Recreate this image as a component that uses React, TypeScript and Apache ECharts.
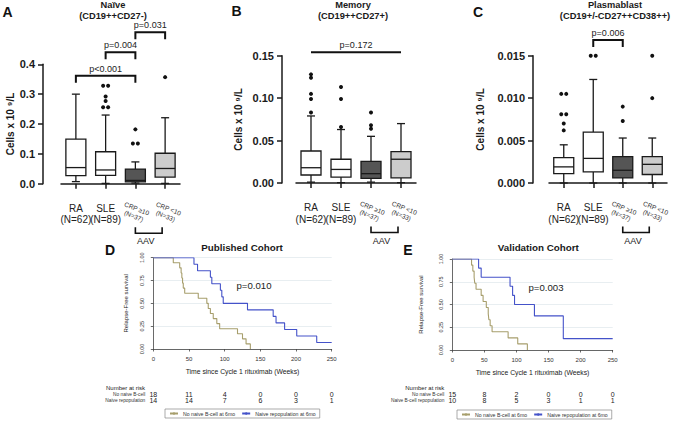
import React, { useEffect, useRef } from 'react';
import * as echarts from 'echarts';

const FONT = '"Liberation Sans", Arial, Helvetica, sans-serif';

// ---------- Box panels (A, B, C) ----------
const groups = ['RA', 'SLE', 'CRP ≥10', 'CRP <10'];
const groupN = [62, 89, 37, 33];
const boxFills = ['#ffffff', '#ffffff', '#555555', '#cccccc'];

// [min, q1, median, q3, max]
const naiveBox = [
  [0.007, 0.027, 0.054, 0.149, 0.300],
  [0.001, 0.028, 0.046, 0.107, 0.230],
  [0.002, 0.006, 0.011, 0.049, 0.073],
  [0.001, 0.022, 0.051, 0.102, 0.221],
];
const naiveOut = [
  [1, 0.328], [1, 0.328], [1, 0.292], [1, 0.277], [1, 0.256], [1, 0.256],
  [2, 0.182], [2, 0.135], [2, 0.135], [3, 0.357],
];
const naiveSig: [number, number, number, string][] = [
  [0, 2, 0.362, 'p<0.001'],
  [1, 2, 0.44, 'p=0.004'],
  [2, 3, 0.507, 'p=0.031'],
];

const memoryBox = [
  [0.001, 0.0094, 0.018, 0.0377, 0.079],
  [0.0004, 0.007, 0.016, 0.028, 0.063],
  [0.001, 0.0055, 0.011, 0.0255, 0.055],
  [0.0004, 0.006, 0.028, 0.037, 0.070],
];
const memoryOut = [
  [0, 0.128], [0, 0.124], [0, 0.105], [0, 0.099], [0, 0.083],
  [1, 0.113], [1, 0.099], [1, 0.066],
  [2, 0.083], [2, 0.068], [2, 0.064],
];
const memorySig: [number, number, number, string][] = [[0, 3, 0.154, 'p=0.172']];

const plasmaBox = [
  [0.0, 0.0011, 0.0019, 0.0030, 0.0045],
  [0.0, 0.0013, 0.0029, 0.0060, 0.0122],
  [0.0, 0.0006, 0.0015, 0.0031, 0.0053],
  [0.0, 0.0010, 0.0022, 0.0031, 0.0053],
];
const plasmaOut = [
  [0, 0.0105], [0, 0.0105], [0, 0.0081], [0, 0.0081], [0, 0.0070], [0, 0.0062],
  [1, 0.0150], [1, 0.0150], [2, 0.0090], [2, 0.0073], [3, 0.0150], [3, 0.0100],
];
const plasmaSig: [number, number, number, string][] = [[1, 2, 0.01685, 'p=0.006']];

// ---------- Kaplan-Meier panels (D, E) ----------
const pubNoNaive = [
  [0, 1], [28, 0.944], [37, 0.889], [39, 0.833], [40, 0.778], [41, 0.722], [42, 0.667],
  [44, 0.611], [63, 0.556], [75, 0.5], [77, 0.444], [80, 0.389], [84, 0.333], [89, 0.278],
  [93, 0.222], [118, 0.167], [125, 0.111], [130, 0.056], [136, 0],
];
const pubRepop = [
  [0, 1], [57, 0.929], [62, 0.857], [80, 0.786], [82, 0.714], [94, 0.643], [96, 0.571],
  [98, 0.5], [132, 0.429], [168, 0.357], [172, 0.286], [184, 0.214], [201, 0.143],
  [229, 0.071], [250, 0.071],
];
const valNoNaive = [
  [0, 1], [30, 0.933], [32, 0.867], [34, 0.8], [35, 0.733], [37, 0.667], [45, 0.6],
  [48, 0.533], [53, 0.467], [56, 0.4], [57, 0.333], [59, 0.267], [62, 0.2], [87, 0.133],
  [102, 0.067], [117, 0],
];
const valRepop = [
  [0, 1], [41, 0.9], [45, 0.8], [90, 0.7], [94, 0.6], [97, 0.5], [128, 0.375],
  [173, 0.125], [250, 0.125],
];
const riskTimes = [0, 50, 100, 150, 200, 250];
const pubRiskNo = [18, 11, 4, 0, 0, 0];
const pubRiskRep = [14, 14, 7, 6, 3, 1];
const valRiskNo = [15, 8, 2, 0, 0, 0];
const valRiskRep = [10, 8, 5, 3, 1, 1];

const NAME_NO = 'No naive B-cell at 6mo';
const NAME_REP = 'Naive repopulation at 6mo';
const OLIVE = '#a79e6c';
const BLUE = '#4452c9';
const INK = '#1a1a1a';

function jitter(out: number[][]): number[] {
  return out.map((o, i) => {
    const same = out.filter((p) => p[0] === o[0] && p[1] === o[1]).length;
    if (same < 2) return 0;
    const k = out.slice(0, i).filter((p) => p[0] === o[0] && p[1] === o[1]).length;
    return (k - (same - 1) / 2) * 5;
  });
}

function txt(x: number, y: number, text: string, size: number, extra: any = {}) {
  const align = extra.align || 'center';
  const valign = extra.verticalAlign || 'middle';
  return {
    type: 'text',
    x,
    y,
    rotation: extra.rotation || 0,
    silent: true,
    style: {
      text,
      fontSize: size,
      fontWeight: extra.bold ? 'bold' : 'normal',
      fontFamily: FONT,
      fill: extra.color || '#1a1a1a',
      align,
      textAlign: align,
      verticalAlign: valign,
      textVerticalAlign: valign,
      lineHeight: extra.lineHeight,
    },
  };
}

function buildOption() {
  const panels = [
    { grid: { left: 61, top: 64.3, width: 119, height: 119.4 }, max: 0.4, interval: 0.1, digits: 1, yOffset: 18, nameGap: 26, box: naiveBox, out: naiveOut, sig: naiveSig, drop: 7 },
    { grid: { left: 296, top: 55.7, width: 120, height: 127.3 }, max: 0.15, interval: 0.05, digits: 2, yOffset: 14, nameGap: 39, box: memoryBox, out: memoryOut, sig: memorySig, drop: 0 },
    { grid: { left: 549, top: 55.7, width: 118, height: 127.3 }, max: 0.015, interval: 0.005, digits: 3, yOffset: 16, nameGap: 48, box: plasmaBox, out: plasmaOut, sig: plasmaSig, drop: 7 },
  ];

  const grid: any[] = [];
  const xAxis: any[] = [];
  const yAxis: any[] = [];
  const series: any[] = [];

  panels.forEach((p, gi) => {
    grid.push(p.grid);
    xAxis.push({
      type: 'category',
      gridIndex: gi,
      data: groups,
      offset: 11,
      axisLine: { show: true, lineStyle: { color: INK, width: 1.5 } },
      axisTick: { show: true, alignWithLabel: true, length: 5, lineStyle: { color: INK, width: 1.5 } },
      axisLabel: {
        margin: 8,
        fontSize: 10,
        lineHeight: 11.5,
        color: '#222',
        fontFamily: FONT,
        interval: 0,
        formatter: (v: string, i: number) => (i < 2 ? `${v}\n(N=${groupN[i]})` : ''),
      },
      splitLine: { show: false },
    });
    yAxis.push({
      type: 'value',
      gridIndex: gi,
      min: 0,
      max: p.max,
      interval: p.interval,
      offset: p.yOffset,
      axisLine: { show: true, lineStyle: { color: INK, width: 1.5 } },
      axisTick: { show: true, length: 5, lineStyle: { color: INK, width: 1.5 } },
      axisLabel: {
        margin: 8,
        fontSize: 11,
        fontWeight: 'bold',
        color: '#1a1a1a',
        fontFamily: FONT,
        formatter: (v: number) => v.toFixed(p.digits),
      },
      splitLine: { show: false },
      name: 'Cells x 10 ⁹/L',
      nameLocation: 'middle',
      nameGap: p.nameGap,
      nameTextStyle: { fontSize: 10, fontWeight: 'bold', color: '#1a1a1a', fontFamily: FONT },
    });

    // boxes
    series.push({
      type: 'custom',
      coordinateSystem: 'cartesian2d',
      xAxisIndex: gi,
      yAxisIndex: gi,
      data: p.box.map((b, i) => [i, ...b]),
      encode: { x: 0, y: [1, 2, 3, 4, 5] },
      renderItem: (params: any, api: any) => {
        const i = api.value(0);
        const pt = (k: number) => api.coord([i, api.value(k)]);
        const lo = pt(1), q1 = pt(2), md = pt(3), q3 = pt(4), hi = pt(5);
        const cx = lo[0], w = 20, c = 4;
        const st = { stroke: INK, lineWidth: 1.3 };
        return {
          type: 'group',
          children: [
            { type: 'line', shape: { x1: cx, y1: hi[1], x2: cx, y2: q3[1] }, style: st },
            { type: 'line', shape: { x1: cx, y1: q1[1], x2: cx, y2: lo[1] }, style: st },
            { type: 'line', shape: { x1: cx - c, y1: hi[1], x2: cx + c, y2: hi[1] }, style: st },
            { type: 'line', shape: { x1: cx - c, y1: lo[1], x2: cx + c, y2: lo[1] }, style: st },
            { type: 'rect', shape: { x: cx - w / 2, y: q3[1], width: w, height: q1[1] - q3[1] }, style: { fill: boxFills[params.dataIndex], stroke: INK, lineWidth: 1.3 } },
            { type: 'line', shape: { x1: cx - w / 2, y1: md[1], x2: cx + w / 2, y2: md[1] }, style: st },
          ],
        };
      },
    });

    // outliers
    const dx = jitter(p.out);
    series.push({
      type: 'custom',
      coordinateSystem: 'cartesian2d',
      xAxisIndex: gi,
      yAxisIndex: gi,
      data: p.out,
      renderItem: (params: any, api: any) => {
        const c = api.coord([api.value(0), api.value(1)]);
        return { type: 'circle', shape: { cx: c[0] + dx[params.dataIndex], cy: c[1], r: 2 }, style: { fill: '#111' } };
      },
    });

    // significance brackets
    series.push({
      type: 'custom',
      coordinateSystem: 'cartesian2d',
      xAxisIndex: gi,
      yAxisIndex: gi,
      data: p.sig.map((s) => [s[0], s[1], s[2]]),
      renderItem: (params: any, api: any) => {
        const a = api.coord([api.value(0), api.value(2)]);
        const b = api.coord([api.value(1), api.value(2)]);
        const d = p.drop;
        const pts = d ? [[a[0], a[1] + d], a, b, [b[0], b[1] + d]] : [a, b];
        return {
          type: 'group',
          children: [
            { type: 'polyline', shape: { points: pts }, style: { stroke: '#111', lineWidth: 2, fill: 'none' } },
            txt((a[0] + b[0]) / 2, a[1] - 2.5, p.sig[params.dataIndex][3], 9, { verticalAlign: 'bottom', color: '#222' }),
          ],
        };
      },
    });

    // rotated CRP labels
    series.push({
      type: 'custom',
      coordinateSystem: 'cartesian2d',
      xAxisIndex: gi,
      yAxisIndex: gi,
      data: [[2, 0], [3, 0]],
      renderItem: (params: any, api: any) => {
        const i = api.value(0);
        const c = api.coord([i, 0]);
        return txt(c[0] + (i === 3 ? 2 : 0), c[1] + 28.5, `${groups[i]}\n(N=${groupN[i]})`, 6.5, { rotation: (-22 * Math.PI) / 180, lineHeight: 8, color: '#333' });
      },
    });

    // AAV bracket under CRP groups
    series.push({
      type: 'custom',
      coordinateSystem: 'cartesian2d',
      xAxisIndex: gi,
      yAxisIndex: gi,
      data: [[2, 3]],
      renderItem: (params: any, api: any) => {
        const a = api.coord([api.value(0), 0]);
        const b = api.coord([api.value(1), 0]);
        const x1 = a[0], x2 = b[0] - 3;
        const yt = a[1] + 43.5, yb = a[1] + 49.5;
        return {
          type: 'group',
          children: [
            { type: 'polyline', shape: { points: [[x1, yt], [x1, yb], [x2, yb], [x2, yt]] }, style: { stroke: '#111', lineWidth: 1.6, fill: 'none' } },
            txt((x1 + x2) / 2 - 3, a[1] + 57.5, 'AAV', 9, { color: '#222' }),
          ],
        };
      },
    });
  });

  // ---------- KM grids ----------
  const km = [
    { grid: { left: 153.3, top: 257.7, width: 178.4, height: 91.3 }, yGap: 20.5, no: pubNoNaive, rep: pubRepop },
    { grid: { left: 452.3, top: 259, width: 160.4, height: 91 }, yGap: 24, no: valNoNaive, rep: valRepop },
  ];
  km.forEach((k, j) => {
    const gi = 3 + j;
    grid.push(k.grid);
    xAxis.push({
      type: 'value',
      gridIndex: gi,
      min: 0,
      max: 250,
      interval: 50,
      offset: 4,
      axisLine: { show: true, lineStyle: { color: '#444', width: 0.8 } },
      axisTick: { show: true, length: 2.5, lineStyle: { color: '#444', width: 0.8 } },
      axisLabel: { fontSize: 6, color: '#333', margin: 3, fontFamily: FONT },
      splitLine: { show: false },
      name: 'Time since Cycle 1 rituximab (Weeks)',
      nameLocation: 'middle',
      nameGap: 15,
      nameTextStyle: { fontSize: 6.8, color: '#222', fontFamily: FONT },
    });
    yAxis.push({
      type: 'value',
      gridIndex: gi,
      min: 0,
      max: 1,
      interval: 0.25,
      offset: 4,
      axisLine: { show: true, lineStyle: { color: '#444', width: 0.8 } },
      axisTick: { show: true, length: 2.5, lineStyle: { color: '#444', width: 0.8 } },
      axisLabel: { fontSize: 5.5, color: '#333', margin: 4.5, rotate: 90, fontFamily: FONT, formatter: (v: number) => v.toFixed(2) },
      splitLine: { show: true, lineStyle: { color: '#e2eaee', width: 0.8 } },
      name: 'Relapse-Free survival',
      nameLocation: 'middle',
      nameGap: k.yGap,
      nameTextStyle: { fontSize: 6, color: '#222', fontFamily: FONT },
    });
    series.push({
      type: 'line', name: NAME_NO, xAxisIndex: gi, yAxisIndex: gi, data: k.no, step: 'end',
      symbol: 'none', lineStyle: { color: OLIVE, width: 1.1 }, itemStyle: { color: OLIVE },
    });
    series.push({
      type: 'line', name: NAME_REP, xAxisIndex: gi, yAxisIndex: gi, data: k.rep, step: 'end',
      symbol: 'none', lineStyle: { color: BLUE, width: 1.1 }, itemStyle: { color: BLUE },
    });
  });

  // ---------- risk tables ----------
  const risk = [
    { grid: { left: 153.3, top: 391.1, width: 178.4, height: 12.8 }, rows: ['No naive B-cell', 'Naive repopulation'], a: pubRiskNo, b: pubRiskRep },
    { grid: { left: 452.3, top: 391.1, width: 160.4, height: 12.8 }, rows: ['No naive B-cell', 'Naive B-cell repopulation'], a: valRiskNo, b: valRiskRep },
  ];
  risk.forEach((r, j) => {
    const gi = 5 + j;
    grid.push(r.grid);
    xAxis.push({ type: 'value', gridIndex: gi, min: 0, max: 250, show: false });
    yAxis.push({
      type: 'category', gridIndex: gi, data: r.rows, inverse: true,
      axisLine: { show: false }, axisTick: { show: false }, splitLine: { show: false },
      axisLabel: { fontSize: 4.8, color: '#333', margin: 8, fontFamily: FONT, interval: 0, hideOverlap: false },
    });
    const data = [
      ...riskTimes.map((t, i) => [t, 0, r.a[i]]),
      ...riskTimes.map((t, i) => [t, 1, r.b[i]]),
    ];
    series.push({
      type: 'custom', coordinateSystem: 'cartesian2d', xAxisIndex: gi, yAxisIndex: gi, data,
      renderItem: (params: any, api: any) => {
        const c = api.coord([api.value(0), api.value(1)]);
        return txt(c[0], c[1], String(api.value(2)), 7, { color: '#222' });
      },
    });
  });

  const legendBase = {
    data: [NAME_NO, NAME_REP],
    orient: 'horizontal',
    borderColor: '#888',
    borderWidth: 0.7,
    padding: [2, 4, 2, 4],
    itemWidth: 8,
    itemHeight: 3,
    itemGap: 6,
    selectedMode: false,
    textStyle: { fontSize: 5.2, color: '#333', fontFamily: FONT },
  };

  const graphic = [
    txt(7.5, 12, 'A', 14, { bold: true, color: '#111' }),
    txt(236.5, 11, 'B', 14, { bold: true, color: '#111' }),
    txt(478, 11.5, 'C', 14, { bold: true, color: '#111' }),
    txt(110, 250, 'D', 14, { bold: true, color: '#111' }),
    txt(408, 250, 'E', 14, { bold: true, color: '#111' }),
    txt(113, 5, 'Naïve', 9.3, { bold: true }),
    txt(113, 15.5, '(CD19++CD27-)', 9.3, { bold: true }),
    txt(353, 5, 'Memory', 9.3, { bold: true }),
    txt(353, 15.5, '(CD19++CD27+)', 9.3, { bold: true }),
    txt(615, 5, 'Plasmablast', 9.3, { bold: true }),
    txt(615, 15.5, '(CD19+/-CD27++CD38++)', 9.3, { bold: true }),
    txt(242, 247.3, 'Published Cohort', 9.8, { bold: true }),
    txt(538.3, 247.5, 'Validation Cohort', 9.8, { bold: true }),
    txt(254, 285, 'p=0.010', 9.6, { color: '#222' }),
    txt(546, 287.7, 'p=0.003', 9.6, { color: '#222' }),
    txt(145, 387.7, 'Number at risk', 6, { align: 'right', color: '#222' }),
    txt(444.3, 387.7, 'Number at risk', 6, { align: 'right', color: '#222' }),
  ];

  return {
    animation: false,
    backgroundColor: '#ffffff',
    textStyle: { fontFamily: FONT },
    grid,
    xAxis,
    yAxis,
    series,
    legend: [
      { ...legendBase, left: 165, top: 409 },
      { ...legendBase, left: 457, top: 410 },
    ],
    graphic,
  };
}

export default function App() {
  const ref = useRef<HTMLDivElement>(null);
  useEffect(() => {
    const chart = echarts.init(ref.current!, null, { renderer: 'svg' });
    chart.setOption(buildOption() as any);
    return () => chart.dispose();
  }, []);
  return (
    <div
      ref={ref}
      style={{ position: 'fixed', left: 0, top: 0, width: 674, height: 421, background: '#fff' }}
    />
  );
}
